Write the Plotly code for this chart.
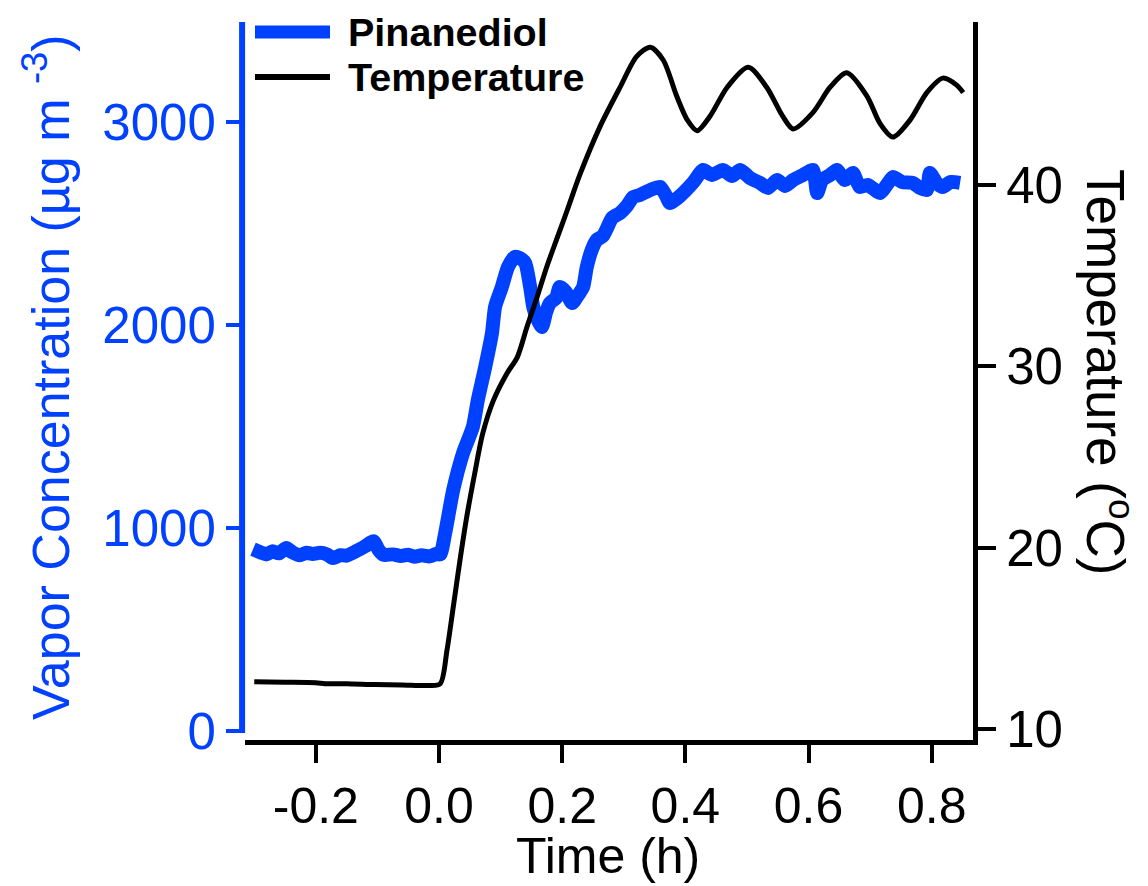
import plotly.graph_objects as go

# Pinanediol vapor concentration (µg m^-3) vs time (h)
conc_time = [
    -0.302, -0.290, -0.280, -0.270, -0.260, -0.248, -0.238, -0.226, -0.215, -0.205,
    -0.193, -0.182, -0.172, -0.160, -0.150, -0.135, -0.120, -0.106, -0.098, -0.090,
    -0.075, -0.062, -0.050, -0.040, -0.028, -0.015, -0.005, 0.002,
    0.010, 0.023, 0.039, 0.055, 0.063, 0.075, 0.086, 0.091, 0.102, 0.112,
    0.123, 0.131, 0.140, 0.148, 0.153, 0.159, 0.167, 0.174, 0.180, 0.190,
    0.196, 0.206, 0.216, 0.226, 0.234, 0.240, 0.248, 0.256, 0.266, 0.273,
    0.281, 0.294, 0.305, 0.315, 0.326, 0.343, 0.359, 0.368, 0.375, 0.391,
    0.412, 0.429, 0.443, 0.461, 0.476, 0.489, 0.505, 0.521, 0.534, 0.549,
    0.562, 0.575, 0.591, 0.607, 0.614, 0.622, 0.635, 0.646, 0.659, 0.672,
    0.683, 0.696, 0.716, 0.727, 0.737, 0.752, 0.769, 0.781, 0.792, 0.797,
    0.808, 0.818, 0.830, 0.846,
]
conc_values = [
    895, 880, 870, 885, 875, 902, 880, 866, 878, 872,
    878, 870, 852, 866, 864, 885, 910, 935, 892, 868,
    870, 862, 868, 858, 866, 860, 872, 870,
    975, 1187, 1369, 1498, 1630, 1793, 1960, 2089, 2187, 2286,
    2335, 2330, 2305, 2187, 2089, 2034, 1990, 2064, 2108, 2133,
    2187, 2163, 2108, 2148, 2187, 2286, 2370, 2419, 2438, 2478,
    2527, 2552, 2586, 2630, 2640, 2665, 2680, 2640, 2601, 2635,
    2700, 2764, 2739, 2764, 2734, 2764, 2724, 2700, 2675, 2714,
    2685, 2714, 2739, 2764, 2650, 2714, 2739, 2764, 2714, 2749,
    2680, 2690, 2650, 2690, 2729, 2704, 2700, 2675, 2665, 2749,
    2700, 2680, 2704, 2700,
]

# Chamber temperature (°C) vs time (h)
temp_time = [
    -0.300, -0.250, -0.200, -0.185, -0.150, -0.104, -0.060, -0.015, 0.002,
    0.013, 0.023, 0.034, 0.045, 0.058, 0.071, 0.088, 0.110, 0.127, 0.143,
    0.159, 0.175, 0.192, 0.208, 0.229, 0.261, 0.294, 0.321, 0.343, 0.364,
    0.386, 0.403, 0.419, 0.440, 0.468, 0.502, 0.532, 0.558, 0.575, 0.607,
    0.635, 0.662, 0.695, 0.716, 0.737, 0.765, 0.792, 0.818, 0.841, 0.851,
]
temp_values = [
    12.6, 12.58, 12.55, 12.5, 12.5, 12.45, 12.43, 12.4, 12.5,
    14.36, 16.7, 19.3, 21.7, 24.1, 26.3, 28.1, 29.6, 30.5, 32.2,
    33.8, 35.5, 37.1, 38.6, 40.6, 43.2, 45.4, 47.1, 47.6, 46.9,
    44.9, 43.6, 43.0, 43.8, 45.4, 46.5, 45.4, 43.8, 43.1, 44.0,
    45.4, 46.2, 44.9, 43.4, 42.65, 43.6, 45.1, 45.9, 45.5, 45.1,
]

x_tickvals = [-0.2, 0.0, 0.2, 0.4, 0.6, 0.8]
x_ticktext = ["-0.2", "0.0", "0.2", "0.4", "0.6", "0.8"]
conc_ticks = [0, 1000, 2000, 3000]
temp_ticks = [10, 20, 30, 40]

BLUE = "#0040ff"
FONT = "Liberation Sans, Arial, sans-serif"
TICK_SIZE = 50
TITLE_SIZE = 52

W, H = 1148, 886
L, R, T, B = 245, 175, 22, 146
pw, ph = W - L - R, H - T - B


def px(x):
    return (x - L) / pw


def py(y):
    return (H - B - y) / ph


fig = go.Figure()
fig.add_trace(go.Scatter(
    x=conc_time, y=conc_values, mode="lines", name="Pinanediol",
    line=dict(color=BLUE, width=14, shape="spline", smoothing=0.6),
    yaxis="y", showlegend=False,
))
fig.add_trace(go.Scatter(
    x=temp_time, y=temp_values, mode="lines", name="Temperature",
    line=dict(color="black", width=5, shape="spline", smoothing=0.8),
    yaxis="y2", showlegend=False,
))

fig.update_layout(
    width=W, height=H,
    margin=dict(l=L, r=R, t=T, b=B, pad=0),
    paper_bgcolor="white", plot_bgcolor="white",
    font=dict(family=FONT, size=TICK_SIZE, color="black"),
    xaxis=dict(
        range=[-0.315, 0.867], showgrid=False, zeroline=False,
        showline=True, linecolor="black", linewidth=5,
        ticks="outside", ticklen=18, tickwidth=4, tickcolor="black",
        tickvals=x_tickvals, ticktext=x_ticktext,
        tickfont=dict(size=TICK_SIZE, color="black"),
    ),
    yaxis=dict(
        range=[-44.3, 3492.6], showgrid=False, zeroline=False,
        showline=False,
        ticks="outside", ticklen=18, tickwidth=4, tickcolor=BLUE,
        tickvals=conc_ticks, tickfont=dict(size=TICK_SIZE + 1, color=BLUE),
    ),
    yaxis2=dict(
        range=[9.393, 48.996], overlaying="y", side="right",
        showgrid=False, zeroline=False,
        showline=True, linecolor="black", linewidth=5,
        ticks="outside", ticklen=18, tickwidth=4, tickcolor="black",
        tickvals=temp_ticks, tickfont=dict(size=TICK_SIZE + 1, color="black"),
    ),
    shapes=[
        # left (concentration) axis line, running from 0 to the top
        dict(type="line", xref="paper", yref="y", x0=-0.004, x1=-0.004,
             y0=-10, y1=3492.6, line=dict(color=BLUE, width=6)),
        # legend samples
        dict(type="line", xref="paper", yref="paper",
             x0=px(255), x1=px(330), y0=py(32), y1=py(32),
             line=dict(color=BLUE, width=13)),
        dict(type="line", xref="paper", yref="paper",
             x0=px(255), x1=px(330), y0=py(77), y1=py(77),
             line=dict(color="black", width=6)),
    ],
    annotations=[
        dict(text="<b>Pinanediol</b>", xref="paper", yref="paper",
             x=px(346), y=py(32), xanchor="left", yanchor="middle",
             showarrow=False, font=dict(size=39.5, color="black")),
        dict(text="<b>Temperature</b>", xref="paper", yref="paper",
             x=px(346), y=py(77), xanchor="left", yanchor="middle",
             showarrow=False, font=dict(size=39.5, color="black")),
        dict(text="Time (h)", xref="paper", yref="paper",
             x=px(608), y=py(856), xanchor="center", yanchor="middle",
             showarrow=False, font=dict(size=TITLE_SIZE - 2, color="black")),
        dict(text="Vapor Concentration (µg m <sup>-3</sup>)",
             xref="paper", yref="paper",
             x=px(47), y=py(377), xanchor="center", yanchor="middle",
             textangle=-90, showarrow=False,
             font=dict(size=TITLE_SIZE, color=BLUE)),
        dict(text="Temperature (<sup>o</sup>C)", xref="paper", yref="paper",
             x=px(1110), y=py(372), xanchor="center", yanchor="middle",
             textangle=90, showarrow=False,
             font=dict(size=TITLE_SIZE + 1, color="black")),
    ],
)

fig.write_html("out.html")
